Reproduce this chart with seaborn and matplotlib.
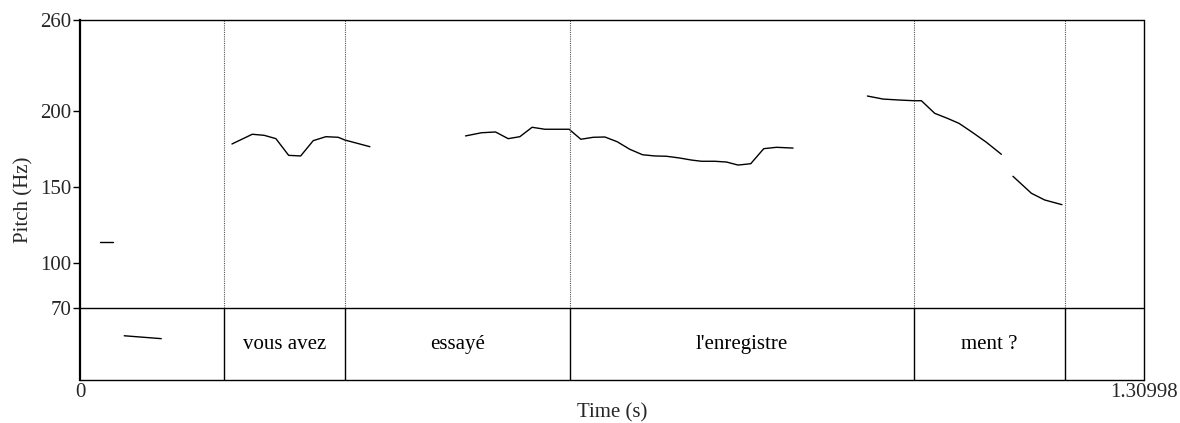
import numpy as np
import pandas as pd
import matplotlib
matplotlib.use("Agg")
import matplotlib.pyplot as plt
import seaborn as sns

# ---- data ----
seg1_t = [0.0246, 0.0403]
seg1_f = [113.9, 113.9]

tier_mark_t = [0.0545, 0.1001]
tier_mark_f = [51.9, 50.0]

seg2_t = [0.1872, 0.2122, 0.2269, 0.2413, 0.2570, 0.2718, 0.2873, 0.3029, 0.3181, 0.3263, 0.3571]
seg2_f = [178.3, 184.7, 184.0, 181.8, 170.8, 170.4, 180.5, 183.1, 182.7, 180.9, 176.5]

seg3_t = [0.4749, 0.4946, 0.5119, 0.5274, 0.5418, 0.5569, 0.5726, 0.6025, 0.6169, 0.6321,
          0.6465, 0.6616, 0.6772, 0.6929, 0.7080, 0.7224, 0.7380, 0.7532, 0.7655, 0.7819,
          0.7963, 0.8106, 0.8262, 0.8422, 0.8579, 0.8783]
seg3_f = [183.6, 185.7, 186.2, 181.8, 183.1, 189.3, 188.0, 188.0, 181.4, 182.7,
          182.9, 179.8, 174.8, 171.2, 170.4, 170.2, 169.1, 167.7, 166.9, 166.9,
          166.4, 164.4, 165.3, 175.2, 176.1, 175.6]

seg4_t = [0.9699, 0.9891, 1.0076, 1.0273, 1.0364, 1.0528, 1.0684, 1.0827, 1.0980, 1.1165, 1.1349]
seg4_f = [209.9, 207.9, 207.3, 206.8, 206.8, 198.5, 195.2, 191.9, 186.4, 179.4, 171.5]

seg5_t = [1.1492, 1.1719, 1.1882, 1.2095]
seg5_f = [157.0, 145.8, 141.4, 138.3]

boundaries = [0.1777, 0.3263, 0.6034, 1.0273, 1.2129]
words = ["vous avez", "essayé", "l'enregistre", "ment ?"]

t_end = 1.30998
y_ticks = [70, 100, 150, 200, 260]
f_min, f_max = 70, 260
tier_bottom = 22.75

# ---- plotting ----
sns.set_theme(style="white")
plt.rcParams["font.family"] = ["Liberation Serif", "DejaVu Serif"]
FS = 15

fig = plt.figure(figsize=(11.8, 4.23), dpi=100)
ax = fig.add_axes([80 / 1180, 1 - 380 / 423, (1143.5 - 80) / 1180, 360 / 423])

segments = [(seg1_t, seg1_f), (tier_mark_t, tier_mark_f), (seg2_t, seg2_f),
            (seg3_t, seg3_f), (seg4_t, seg4_f), (seg5_t, seg5_f)]
frames = []
for i, (t, f) in enumerate(segments):
    frames.append(pd.DataFrame({"time": t, "pitch": f, "seg": i}))
df = pd.concat(frames, ignore_index=True)

sns.lineplot(data=df, x="time", y="pitch", units="seg", estimator=None,
             color="black", linewidth=1.0, ax=ax, legend=False)

# tier separator and boundaries
ax.axhline(f_min, color="black", linewidth=1.0)
for b in boundaries:
    ax.plot([b, b], [f_min, f_max], color="#555555", linestyle=(0, (1, 1)), linewidth=0.8)
    ax.plot([b, b], [tier_bottom, f_min], color="black", linewidth=1.0)

for i, w in enumerate(words):
    ax.text((boundaries[i] + boundaries[i + 1]) / 2, (tier_bottom + f_min) / 2, w,
            ha="center", va="center", fontsize=FS, color="black")

ax.set_xlim(0, t_end)
ax.set_ylim(tier_bottom, f_max)
ax.set_yticks(y_ticks)
ax.set_yticklabels([str(v) for v in y_ticks], fontsize=FS)
ax.set_xticks([0, t_end])
ax.set_xticklabels(["0", "1.30998"], fontsize=FS)
ax.tick_params(axis="y", which="both", left=True, length=5, width=1, color="black", pad=1)
ax.tick_params(axis="x", which="both", bottom=False, length=0, pad=2)
ax.set_xlabel("Time (s)", fontsize=FS, labelpad=1)
ax.set_ylabel("Pitch (Hz)", fontsize=FS, labelpad=5)
for s in ax.spines.values():
    s.set_color("black")
    s.set_linewidth(1.0)
ax.spines["left"].set_linewidth(1.6)
ax.grid(False)

fig.savefig("out.png", dpi=100)
